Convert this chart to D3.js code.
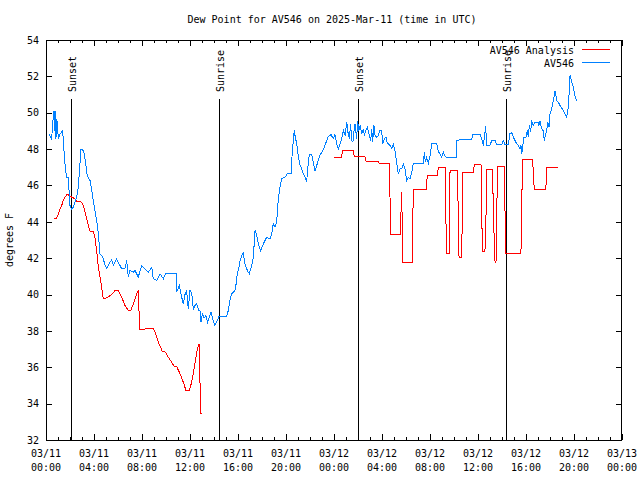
<!DOCTYPE html>
<html>
<head>
<meta charset="utf-8">
<script src="https://cdn.jsdelivr.net/npm/d3@7"></script>
<style>
  html, body { margin: 0; padding: 0; background: #fff; }
  svg { display: block; }
  text { font-family: "DejaVu Sans Mono", "Liberation Mono", monospace; font-size: 10px; fill: #000; }
</style>
</head>
<body>
<svg id="chart" width="640" height="480"></svg>
<script>
// ---------------- data ----------------
const chartTitle = "Dew Point for AV546 on 2025-Mar-11 (time in UTC)";
const yAxisTitle = "degrees F";
const seriesNames = ["AV546 Analysis", "AV546"];
const startDateUTC = [2025, 2, 11]; // 2025-03-11 00:00 UTC
const xDomainHours = [0, 48];
const yDomain = [32, 54];
const yTickValues = [32, 34, 36, 38, 40, 42, 44, 46, 48, 50, 52, 54];
const xMajorStepHours = 4;

// Sun events (hours after 03/11 00:00 UTC)
const sunLabels = ["Sunset", "Sunrise", "Sunset", "Sunrise"];
const sunHours = [2.11, 14.47, 26.03, 38.36];

// AV546 observed dew point (hours, degF)
const blueHours = [0.25,0.47,0.58,0.67,0.72,0.78,0.83,0.89,0.94,1.03,1.17,1.36,1.44,1.53,1.64,1.72,1.86,1.92,2.0,2.14,2.28,2.42,2.56,2.69,2.83,2.92,3.06,3.19,3.31,3.42,3.53,3.67,3.81,3.94,4.08,4.22,4.36,4.5,4.64,4.78,4.92,5.06,5.33,5.47,5.61,5.89,6.0,6.31,6.58,6.72,6.86,7.0,7.28,7.42,7.69,7.97,8.25,8.53,8.81,8.94,9.22,9.5,9.78,9.97,10.86,10.89,11.11,11.31,11.44,11.58,11.72,11.86,12.0,12.14,12.28,12.42,12.56,12.75,12.83,12.92,13.03,13.17,13.33,13.47,13.58,13.75,13.94,14.08,14.22,14.42,15.06,15.19,15.33,15.47,15.61,15.75,15.89,15.94,16.03,16.17,16.31,16.44,16.58,16.78,16.94,17.14,17.28,17.33,17.42,17.56,17.69,17.89,18.11,18.39,18.67,18.81,18.94,19.08,19.22,19.36,19.5,19.64,19.92,20.11,20.42,20.53,20.61,20.69,20.75,20.89,21.03,21.17,21.31,21.44,21.58,21.72,21.81,21.94,22.14,22.28,22.42,22.56,22.69,22.83,23.06,23.25,23.39,23.53,23.75,23.94,24.08,24.22,24.36,24.5,24.64,24.78,24.92,25.06,25.17,25.28,25.39,25.47,25.58,25.67,25.75,25.89,25.97,26.06,26.17,26.31,26.44,26.53,26.64,26.78,26.94,27.06,27.14,27.22,27.33,27.42,27.56,27.69,27.83,27.97,28.06,28.19,28.33,28.42,28.53,28.67,28.81,28.94,29.08,29.22,29.36,29.5,29.64,29.78,29.92,30.06,30.19,30.33,30.47,30.61,30.75,31.44,31.53,31.61,31.72,31.86,32.0,32.14,32.56,32.69,32.97,33.11,33.25,33.39,34.17,34.22,34.5,35.47,35.56,36.17,36.31,36.44,36.58,36.64,36.72,37.0,37.14,37.42,37.56,37.97,38.11,38.25,38.53,38.67,38.81,38.94,39.08,39.22,39.36,39.5,39.58,39.64,39.72,39.83,40.0,40.11,40.19,40.28,40.39,40.47,40.61,40.75,41.03,41.08,41.17,41.31,41.44,41.53,41.64,41.72,41.81,41.92,42.0,42.14,42.28,42.42,42.5,42.56,42.69,42.83,43.11,43.39,43.53,43.67,43.81,43.94,44.08,44.22];
const blueValues = [48.84,48.57,49.57,50.12,49.0,50.1,48.56,49.67,49.4,48.57,48.84,48.98,48.65,47.55,46.82,46.45,46.45,45.72,44.9,44.7,44.8,45.08,45.35,45.9,47.19,48.0,47.96,47.74,47.19,46.64,46.42,46.27,45.72,45.17,44.62,44.07,43.34,42.24,42.15,41.96,41.6,41.42,41.78,41.9,41.6,41.96,41.8,41.42,41.42,41.87,40.96,41.32,41.23,41.32,40.96,41.6,41.42,41.23,41.5,40.87,40.77,41.14,40.87,41.14,41.14,40.13,40.5,39.85,39.49,40.0,40.22,39.21,40.22,40.1,39.21,39.4,39.49,39.12,39.12,38.48,38.94,38.7,38.85,38.48,38.7,39.03,38.57,38.3,38.5,38.79,38.79,39.12,39.67,40.04,40.13,40.22,40.77,41.23,41.32,41.87,42.15,42.28,41.69,41.32,41.14,41.6,42.06,42.6,43.52,43.25,42.79,42.42,42.79,43.15,43.06,43.34,43.89,43.7,43.98,45.27,45.9,46.37,46.45,46.64,46.64,47.92,48.47,49.02,48.75,48.29,47.55,47.1,46.92,46.64,46.45,46.18,46.92,47.7,47.7,47.28,46.78,47.1,47.37,47.65,47.92,48.2,48.47,48.69,48.8,48.57,48.8,48.29,48.02,48.29,48.57,49.02,48.75,49.48,48.9,48.57,49.39,48.47,48.4,49.02,49.39,48.57,49.57,49.0,49.3,48.84,49.12,48.75,49.02,49.21,48.75,48.47,49.12,48.38,49.3,48.75,48.66,48.75,49.02,49.02,48.29,48.57,48.66,48.38,48.29,48.2,48.02,48.29,47.92,47.28,46.64,46.92,46.92,47.19,46.92,46.27,46.45,46.37,46.7,47.19,47.22,47.22,47.83,47.3,47.55,47.22,47.6,48.29,48.29,47.88,47.55,47.83,47.6,47.55,47.55,48.47,48.51,48.51,48.8,48.8,48.57,48.2,48.93,49.24,48.2,48.2,48.47,48.47,48.24,48.24,48.47,48.24,48.24,48.87,48.9,48.66,48.47,48.3,48.2,48.02,48.2,47.74,48.1,48.66,48.66,49.02,48.66,49.3,48.93,49.57,49.3,49.48,49.48,49.3,49.53,49.12,49.0,48.47,48.84,49.02,49.48,49.2,49.94,50.22,50.67,51.18,50.9,50.67,50.58,50.4,50.12,49.76,50.3,52.05,51.68,51.4,50.95,50.67];

// AV546 Analysis dew point (hours, degF); null marks a gap
const redHours = [0.67,0.89,1.03,1.17,1.31,1.44,1.58,1.72,1.86,2.0,2.19,2.42,2.56,2.83,2.97,3.11,3.25,3.39,3.53,3.67,3.94,4.08,4.22,4.36,4.5,4.64,4.78,5.06,5.47,5.75,6.03,6.31,6.58,6.86,7.06,7.28,7.56,7.69,7.75,7.83,8.11,8.39,8.94,9.08,9.36,9.69,9.97,10.19,10.47,10.67,10.89,11.17,11.44,11.67,11.94,12.14,12.36,12.56,12.72,12.78,12.83,12.89,12.97,
  18.0,
  24.0,24.64,24.69,25.61,25.69,26.58,26.67,27.69,27.78,28.61,28.67,28.72,29.56,29.58,29.64,29.69,29.72,30.53,30.56,30.61,31.67,31.72,31.78,32.61,32.69,33.28,33.31,33.39,33.61,33.67,34.28,34.36,34.42,34.64,34.69,34.72,35.61,35.69,36.25,36.31,36.36,36.58,36.67,36.72,37.22,37.28,37.42,37.5,37.56,37.64,38.19,38.25,38.31,39.58,39.64,39.72,40.56,40.61,40.69,41.64,41.72,41.74,42.64];
const redValues = [44.2,44.2,44.44,44.71,44.9,45.17,45.35,45.48,45.48,45.39,45.35,45.26,45.12,45.12,45.08,44.9,44.53,44.16,43.79,43.48,43.48,43.15,42.42,41.5,40.95,40.4,39.76,39.82,40.0,40.22,40.22,39.85,39.4,39.12,39.12,39.49,40.04,40.22,39.12,38.06,38.06,38.15,38.15,37.93,37.38,36.88,36.83,36.55,36.28,36.06,36.04,35.64,35.18,34.72,34.72,35.18,36.0,36.83,37.25,37.25,35.27,33.44,33.44,
  null,
  47.52,47.52,47.92,47.92,47.59,47.59,47.32,47.32,47.22,47.22,45.27,43.29,43.29,44.44,45.63,43.7,41.78,41.78,43.8,45.76,45.76,46.18,46.55,46.55,46.97,46.97,44.62,42.24,42.24,46.82,46.82,44.35,42.02,42.02,44.35,46.69,46.69,47.13,47.13,44.8,42.38,42.38,44.44,46.86,46.86,44.35,41.78,41.78,44.53,47.06,47.06,44.62,42.28,42.28,44.9,47.41,47.41,46.59,45.78,45.78,46.4,46.97,46.97];

const seriesColors = ["#ff0000", "#0080ff"];

// ---------------- chart ----------------
const svg = d3.select("#chart");
const W = 640, H = 480;
const plot = { left: 46, right: 622, top: 40, bottom: 440 };

const t0 = Date.UTC(startDateUTC[0], startDateUTC[1], startDateUTC[2]);
const toDate = h => new Date(t0 + h * 3600e3);

const x = d3.scaleUtc().domain(xDomainHours.map(toDate)).range([plot.left, plot.right]);
const y = d3.scaleLinear().domain(yDomain).range([plot.bottom, plot.top]);

svg.append("rect").attr("width", W).attr("height", H).attr("fill", "#fff");

// title
svg.append("text").attr("x", 332).attr("y", 23).attr("text-anchor", "middle").text(chartTitle);

// y-axis title
svg.append("text")
  .attr("transform", `translate(13,${(plot.top + plot.bottom) / 2}) rotate(-90)`)
  .attr("text-anchor", "middle").text(yAxisTitle);

const majorTicks = d3.utcHour.every(xMajorStepHours).range(toDate(0), toDate(48.01));
const minorTicks = d3.utcHour.every(1).range(toDate(0), toDate(48.01));

function styleAxis(g) {
  g.select(".domain").remove();
  g.selectAll(".tick line").attr("stroke", "#000").attr("shape-rendering", "crispEdges");
  g.selectAll("text").style("font-family", '"DejaVu Sans Mono", monospace').style("font-size", "10px").attr("fill", "#000");
}

// bottom / top axes (ticks inward)
svg.append("g").attr("transform", `translate(0,${plot.bottom})`)
  .call(d3.axisBottom(x).tickValues(minorTicks).tickSize(-3).tickFormat("")).call(styleAxis);
svg.append("g").attr("transform", `translate(0,${plot.bottom})`)
  .call(d3.axisBottom(x).tickValues(majorTicks).tickSize(-6).tickFormat("")).call(styleAxis);
svg.append("g").attr("transform", `translate(0,${plot.top})`)
  .call(d3.axisTop(x).tickValues(minorTicks).tickSize(-3).tickFormat("")).call(styleAxis);
svg.append("g").attr("transform", `translate(0,${plot.top})`)
  .call(d3.axisTop(x).tickValues(majorTicks).tickSize(-6).tickFormat("")).call(styleAxis);

// left / right axes
svg.append("g").attr("transform", `translate(${plot.left},0)`)
  .call(d3.axisLeft(y).tickValues(yTickValues).tickSize(-6).tickPadding(7).tickFormat(d3.format("d")))
  .call(styleAxis);
svg.append("g").attr("transform", `translate(${plot.right},0)`)
  .call(d3.axisRight(y).tickValues(yTickValues).tickSize(-6).tickFormat(""))
  .call(styleAxis);

// x labels (two lines)
const fmtDate = d3.utcFormat("%m/%d"), fmtTime = d3.utcFormat("%H:%M");
const xl = svg.append("g");
majorTicks.forEach(d => {
  xl.append("text").attr("x", x(d)).attr("y", 457).attr("text-anchor", "middle").text(fmtDate(d));
  xl.append("text").attr("x", x(d)).attr("y", 471).attr("text-anchor", "middle").text(fmtTime(d));
});

// border
svg.append("rect")
  .attr("x", plot.left + 0.5).attr("y", plot.top + 0.5)
  .attr("width", plot.right - plot.left - 1).attr("height", plot.bottom - plot.top)
  .attr("fill", "none").attr("stroke", "#000").attr("shape-rendering", "crispEdges");

// sun event lines
sunHours.forEach((h, i) => {
  const px = Math.floor(x(toDate(h))) + 0.5;
  svg.append("line").attr("x1", px).attr("x2", px).attr("y1", 99).attr("y2", plot.bottom)
    .attr("stroke", "#000").attr("shape-rendering", "crispEdges");
  svg.append("text")
    .attr("transform", `translate(${px + 4},92) rotate(-90)`)
    .attr("text-anchor", "start").text(sunLabels[i]);
});

// series
const line = d3.line()
  .defined(d => d[1] != null)
  .x(d => x(toDate(d[0])))
  .y(d => y(d[1]));

const redData = redHours.map((h, i) => [h, redValues[i]]);
const blueData = blueHours.map((h, i) => [h, blueValues[i]]);

svg.append("path").datum(redData).attr("d", line)
  .attr("fill", "none").attr("stroke", seriesColors[0]).attr("stroke-width", 1)
  .attr("shape-rendering", "crispEdges");
svg.append("path").datum(blueData).attr("d", line)
  .attr("fill", "none").attr("stroke", seriesColors[1]).attr("stroke-width", 1)
  .attr("shape-rendering", "crispEdges");

// legend
const legY = [50, 63];
seriesNames.forEach((name, i) => {
  svg.append("text").attr("x", 574).attr("y", legY[i] + 3.5).attr("text-anchor", "end").text(name);
  svg.append("line").attr("x1", 582).attr("x2", 610).attr("y1", legY[i] - 0.5).attr("y2", legY[i] - 0.5)
    .attr("stroke", seriesColors[i]).attr("shape-rendering", "crispEdges");
});
</script>
</body>
</html>
